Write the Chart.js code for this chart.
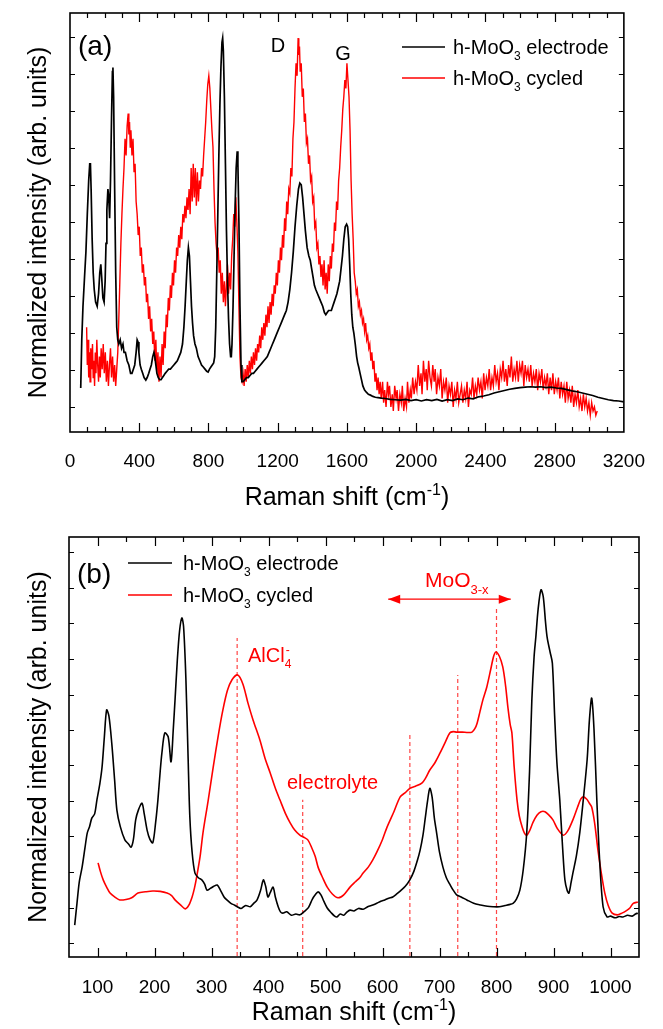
<!DOCTYPE html>
<html>
<head>
<meta charset="utf-8">
<title>Raman spectra of h-MoO3</title>
<script src="https://cdn.jsdelivr.net/npm/chart.js@4.4.1/dist/chart.umd.min.js"></script>
<style>
  body { margin: 0; background: #fff; }
  .panel { position: absolute; left: 0; }
</style>
</head>
<body>
<canvas id="chartA" class="panel" width="663" height="515" style="top:0"></canvas>
<canvas id="chartB" class="panel" width="663" height="514" style="top:515px"></canvas>
<script>
// ---------- panel (a): full range, 0 - 3200 cm-1 ----------
const xLabelsA = [0, 400, 800, 1200, 1600, 2000, 2400, 2800, 3200];
const yTicksA = [0.06, 0.148, 0.237, 0.325, 0.413, 0.502, 0.59, 0.678, 0.767, 0.855, 0.943];

// h-MoO3 electrode, [shift, normalized intensity]
const electrodeA = [
  [62,.105],[68,.22],[75,.30],[84,.37],[92,.43],[100,.52],[108,.60],[114,.64],[118,.64],[122,.58],
  [128,.46],[134,.38],[140,.34],[148,.31],[157,.30],[165,.33],[172,.38],[178,.40],[183,.37],[190,.32],
  [197,.31],[203,.36],[208,.45],[213,.53],[219,.58],[224,.56],[229,.51],[234,.60],[240,.75],[245,.86],
  [248,.87],[252,.80],[258,.58],[264,.38],[270,.25],[276,.22],[282,.21],[290,.22],[298,.20],[306,.21],
  [312,.19],[320,.19],[330,.17],[340,.16],[350,.14],[358,.14],[366,.15],[374,.16],[382,.19],[388,.22],
  [393,.215],[398,.19],[405,.16],[412,.15],[420,.14],[428,.13],[438,.124],[446,.13],[455,.14],[462,.15],
  [470,.16],[478,.18],[485,.19],[490,.18],[496,.16],[502,.14],[510,.13],[518,.125],[526,.125],[534,.13],
  [542,.135],[550,.14],[560,.145],[570,.15],[580,.15],[590,.155],[600,.16],[610,.165],[620,.17],[630,.18],
  [640,.19],[650,.21],[658,.25],[665,.30],[672,.36],[678,.41],[684,.44],[690,.42],[696,.36],[702,.30],
  [708,.26],[714,.23],[722,.21],[730,.20],[740,.18],[750,.17],[760,.16],[770,.155],[780,.15],[790,.145],
  [798,.143],[806,.15],[814,.155],[822,.16],[830,.165],[836,.18],[842,.25],[848,.38],[854,.52],[860,.66],
  [866,.78],[872,.87],[878,.93],[882,.94],[886,.91],[892,.80],[898,.64],[904,.48],[910,.36],[916,.27],
  [922,.21],[928,.18],[932,.18],[936,.21],[942,.30],[948,.42],[954,.54],[960,.63],[966,.67],[970,.64],
  [976,.50],[982,.30],[988,.16],[993,.12],[1000,.12],[1010,.125],[1020,.13],[1030,.13],[1040,.135],[1050,.14],
  [1060,.14],[1070,.145],[1080,.15],[1090,.155],[1100,.16],[1110,.165],[1120,.17],[1130,.175],[1140,.18],[1150,.19],
  [1160,.20],[1170,.21],[1180,.22],[1190,.23],[1200,.24],[1210,.25],[1220,.26],[1230,.27],[1240,.28],[1250,.29],
  [1260,.31],[1270,.34],[1280,.38],[1290,.43],[1300,.49],[1310,.54],[1320,.58],[1328,.594],[1336,.59],[1344,.56],
  [1352,.52],[1360,.48],[1370,.44],[1380,.42],[1388,.41],[1396,.39],[1404,.37],[1412,.35],[1420,.34],[1430,.33],
  [1440,.32],[1450,.31],[1460,.30],[1470,.285],[1478,.28],[1486,.285],[1494,.29],[1502,.29],[1510,.29],[1518,.30],
  [1526,.31],[1534,.32],[1542,.33],[1550,.345],[1558,.36],[1566,.39],[1574,.42],[1582,.46],[1590,.49],[1598,.496],
  [1604,.49],[1610,.46],[1616,.40],[1622,.33],[1628,.28],[1634,.25],[1640,.236],[1648,.21],[1656,.18],[1662,.165],
  [1668,.155],[1676,.14],[1684,.125],[1692,.11],[1702,.10],[1712,.095],[1724,.09],[1736,.088],[1750,.085],[1764,.083],
  [1780,.082],[1798,.081],[1820,.08],[1850,.078],[1880,.077],[1910,.076],[1940,.078],[1970,.075],[2000,.077],[2030,.074],
  [2060,.077],[2090,.075],[2120,.078],[2150,.074],[2180,.077],[2210,.075],[2240,.079],[2270,.077],[2300,.081],[2330,.079],
  [2360,.084],[2390,.086],[2420,.089],[2450,.093],[2480,.096],[2510,.099],[2540,.102],[2570,.104],[2600,.106],[2630,.107],
  [2660,.108],[2690,.107],[2720,.108],[2750,.106],[2780,.107],[2810,.105],[2840,.104],[2870,.101],[2900,.098],[2930,.096],
  [2960,.093],[2990,.09],[3020,.087],[3050,.083],[3080,.08],[3110,.077],[3140,.075],[3170,.074],[3200,.072]
];

// h-MoO3 cycled, [shift, normalized intensity]
const cycledA = [
  [96,.25],[100,.16],[104,.22],[108,.13],[112,.19],[116,.12],[120,.20],[125,.15],[130,.21],[134,.13],
  [138,.17],[142,.11],[146,.19],[150,.14],[155,.22],[160,.16],[165,.12],[170,.18],[175,.13],[180,.20],
  [186,.15],[192,.21],[198,.14],[204,.19],[210,.12],[216,.17],[222,.11],[228,.16],[234,.20],[240,.13],
  [246,.18],[252,.12],[258,.16],[264,.11],[270,.15],[276,.19],[282,.27],[288,.36],[294,.45],[300,.52],
  [306,.58],[312,.63],[318,.70],[324,.66],[330,.73],[336,.76],[340,.71],[344,.74],[348,.68],[352,.72],
  [358,.66],[364,.70],[370,.62],[376,.64],[382,.55],[388,.52],[394,.47],[400,.49],[406,.42],[412,.44],
  [418,.38],[424,.40],[430,.35],[436,.37],[442,.31],[448,.33],[454,.27],[460,.30],[466,.24],[472,.27],
  [478,.21],[484,.24],[490,.17],[496,.22],[502,.14],[508,.19],[514,.12],[520,.18],[526,.13],[532,.21],
  [538,.16],[544,.24],[550,.20],[556,.28],[562,.25],[568,.32],[574,.29],[580,.35],[586,.32],[592,.38],
  [598,.35],[604,.41],[610,.38],[616,.44],[622,.42],[628,.47],[634,.44],[640,.49],[646,.46],[652,.52],
  [658,.50],[664,.54],[670,.51],[676,.56],[682,.53],[688,.58],[694,.52],[700,.63],[706,.55],[712,.64],
  [718,.56],[724,.63],[730,.54],[736,.62],[742,.55],[748,.60],[754,.58],[760,.63],[766,.61],[772,.66],
  [778,.70],[784,.74],[790,.79],[796,.83],[802,.85],[808,.82],[814,.77],[820,.72],[826,.68],[832,.58],
  [838,.50],[844,.45],[850,.42],[856,.44],[862,.38],[868,.41],[874,.33],[880,.38],[886,.31],[892,.36],
  [898,.30],[904,.35],[910,.40],[916,.33],[922,.38],[928,.34],[934,.42],[940,.46],[946,.52],[952,.49],
  [958,.56],[964,.50],[970,.43],[976,.30],[982,.18],[988,.13],[994,.12],[1000,.14],[1006,.11],[1012,.15],
  [1018,.12],[1024,.16],[1030,.13],[1036,.17],[1042,.14],[1048,.18],[1054,.15],[1060,.19],[1066,.16],[1072,.20],
  [1078,.17],[1084,.21],[1090,.19],[1096,.23],[1102,.20],[1108,.25],[1114,.22],[1120,.26],[1126,.23],[1132,.28],
  [1138,.25],[1144,.30],[1150,.26],[1156,.31],[1162,.28],[1168,.33],[1174,.30],[1180,.35],[1186,.33],[1192,.38],
  [1198,.35],[1204,.41],[1210,.38],[1216,.44],[1222,.41],[1228,.47],[1234,.44],[1240,.51],[1246,.48],[1252,.55],
  [1258,.52],[1264,.58],[1270,.57],[1276,.63],[1282,.61],[1288,.70],[1294,.74],[1300,.82],[1306,.88],[1312,.85],
  [1318,.94],[1322,.90],[1326,.92],[1330,.86],[1336,.88],[1342,.80],[1348,.82],[1354,.74],[1360,.76],[1366,.69],
  [1372,.70],[1378,.64],[1384,.66],[1390,.60],[1396,.61],[1402,.55],[1408,.56],[1414,.49],[1420,.50],[1426,.44],
  [1432,.45],[1438,.40],[1444,.42],[1450,.37],[1456,.40],[1462,.35],[1468,.41],[1474,.34],[1480,.38],[1486,.33],
  [1492,.40],[1498,.36],[1504,.42],[1510,.39],[1516,.45],[1522,.43],[1528,.50],[1534,.48],[1540,.55],[1546,.53],
  [1552,.60],[1558,.63],[1564,.68],[1570,.72],[1576,.77],[1582,.80],[1588,.84],[1594,.82],[1600,.88],[1606,.84],
  [1612,.80],[1618,.72],[1624,.60],[1630,.52],[1636,.46],[1642,.38],[1648,.36],[1654,.33],[1660,.34],[1666,.30],
  [1672,.31],[1678,.28],[1684,.29],[1690,.26],[1696,.27],[1702,.24],[1708,.26],[1714,.22],[1720,.23],[1726,.20],
  [1732,.21],[1738,.17],[1744,.19],[1750,.15],[1756,.17],[1762,.12],[1768,.14],[1774,.10],[1780,.13],[1786,.09],
  [1792,.12],[1798,.08],[1806,.12],[1812,.07],[1818,.10],[1826,.06],[1834,.12],[1840,.09],[1846,.11],[1854,.06],
  [1862,.09],[1868,.05],[1876,.11],[1884,.08],[1890,.10],[1898,.05],[1906,.09],[1914,.07],[1920,.11],[1928,.05],
  [1936,.08],[1944,.06],[1950,.12],[1958,.07],[1966,.10],[1972,.08],[1980,.13],[1988,.09],[1996,.12],[2004,.10],
  [2012,.16],[2020,.11],[2028,.14],[2034,.09],[2042,.17],[2050,.12],[2058,.15],[2064,.10],[2072,.17],[2080,.13],
  [2088,.11],[2096,.16],[2104,.12],[2110,.15],[2118,.09],[2126,.13],[2134,.11],[2142,.15],[2150,.08],[2158,.12],
  [2166,.10],[2174,.13],[2182,.07],[2190,.11],[2198,.09],[2206,.12],[2214,.06],[2222,.10],[2230,.08],[2238,.12],
  [2246,.07],[2254,.09],[2262,.11],[2270,.07],[2278,.10],[2286,.08],[2294,.12],[2302,.06],[2310,.10],[2318,.09],
  [2326,.13],[2334,.08],[2342,.11],[2350,.09],[2358,.13],[2366,.10],[2374,.12],[2382,.08],[2390,.14],[2398,.10],
  [2406,.13],[2414,.11],[2422,.15],[2430,.10],[2438,.13],[2446,.11],[2454,.16],[2462,.12],[2470,.14],[2478,.10],
  [2486,.15],[2494,.13],[2502,.17],[2510,.12],[2518,.15],[2526,.11],[2534,.16],[2542,.13],[2550,.18],[2558,.12],
  [2566,.15],[2574,.13],[2582,.17],[2590,.12],[2598,.16],[2606,.14],[2614,.17],[2622,.11],[2630,.16],[2638,.13],
  [2646,.15],[2654,.12],[2662,.16],[2670,.11],[2678,.14],[2686,.12],[2694,.15],[2702,.10],[2710,.14],[2718,.12],
  [2726,.15],[2734,.10],[2742,.13],[2750,.11],[2758,.14],[2766,.09],[2774,.13],[2782,.10],[2790,.14],[2798,.09],
  [2806,.12],[2814,.10],[2822,.13],[2830,.08],[2838,.12],[2846,.09],[2854,.11],[2862,.07],[2870,.12],[2878,.08],
  [2886,.10],[2894,.07],[2902,.11],[2910,.06],[2918,.09],[2926,.07],[2934,.10],[2942,.06],[2950,.08],[2958,.05],
  [2966,.09],[2974,.06],[2982,.08],[2990,.05],[2998,.07],[3006,.04],[3014,.07],[3022,.05],[3030,.06],[3038,.04],
  [3046,.05]
];

// ---------- panel (b): zoom 50 - 1050 cm-1 ----------
const xLabelsB = [100, 200, 300, 400, 500, 600, 700, 800, 900, 1000];
const yTicksB = [0.047, 0.13, 0.214, 0.297, 0.38, 0.464, 0.547, 0.63, 0.714, 0.797, 0.88, 0.964];

const electrodeB = [
  [60,.089],[64,.14],[68,.19],[73,.225],[78,.27],[82,.305],[86,.32],[90,.34],[95,.35],[99,.383],
  [104,.42],[108,.46],[112,.53],[116,.594],[120,.58],[125,.516],[130,.43],[134,.359],[140,.32],[148,.289],
  [154,.28],[159,.272],[163,.29],[167,.336],[172,.36],[178,.375],[182,.35],[187,.312],[192,.29],[197,.282],
  [202,.33],[206,.383],[210,.45],[213,.493],[218,.54],[224,.531],[229,.472],[233,.55],[236,.617],[240,.71],
  [244,.78],[248,.81],[251,.79],[255,.67],[259,.48],[262,.343],[266,.26],[271,.211],[277,.20],[283,.195],
  [288,.185],[292,.171],[298,.175],[304,.18],[310,.183],[316,.17],[322,.155],[327,.148],[334,.14],[340,.136],
  [345,.132],[352,.128],[360,.135],[368,.132],[374,.14],[380,.148],[386,.17],[391,.195],[395,.18],[399,.155],
  [403,.165],[408,.178],[412,.155],[417,.132],[421,.12],[425,.117],[432,.12],[440,.112],[448,.115],[455,.113],
  [462,.12],[470,.13],[477,.15],[482,.16],[487,.167],[492,.16],[497,.145],[503,.129],[510,.118],[516,.11],
  [520,.108],[526,.115],[532,.112],[538,.12],[543,.124],[550,.122],[558,.128],[566,.126],[574,.132],[583,.136],
  [590,.14],[597,.145],[604,.148],[611,.152],[618,.155],[625,.162],[632,.17],[640,.18],[648,.195],[655,.215],
  [661,.24],[666,.265],[671,.30],[675,.34],[679,.38],[683,.41],[687,.39],[691,.34],[695,.305],[700,.26],
  [706,.225],[712,.20],[718,.185],[724,.171],[730,.16],[738,.155],[748,.148],[760,.14],[772,.136],[784,.133],
  [794,.132],[805,.132],[815,.135],[822,.137],[829,.14],[835,.15],[841,.171],[847,.22],[853,.305],[858,.45],
  [862,.617],[866,.72],[869,.765],[873,.83],[878,.876],[882,.86],[886,.80],[889,.763],[894,.73],[898,.704],
  [902,.58],[906,.47],[911,.383],[916,.27],[920,.195],[924,.17],[927,.164],[931,.19],[934,.211],[940,.25],
  [946,.305],[952,.38],[959,.477],[963,.57],[967,.622],[971,.55],[976,.383],[981,.24],[987,.132],[994,.108],
  [1000,.11],[1008,.106],[1015,.109],[1022,.108],[1030,.112],[1038,.11],[1044,.115],[1048,.117]
];

const cycledB = [
  [101,.235],[105,.215],[110,.195],[116,.178],[122,.164],[130,.155],[139,.148],[150,.149],[160,.153],[171,.164],
  [184,.167],[197,.169],[210,.168],[222,.164],[230,.158],[236,.148],[245,.137],[254,.127],[260,.135],[266,.155],
  [270,.175],[274,.202],[280,.25],[285,.305],[294,.38],[303,.46],[312,.535],[320,.594],[328,.64],[336,.665],
  [346,.676],[355,.655],[364,.61],[373,.57],[385,.523],[394,.48],[403,.446],[412,.41],[420,.383],[430,.35],
  [438,.329],[446,.312],[455,.30],[462,.295],[469,.289],[476,.27],[482,.25],[487,.225],[495,.20],[503,.178],
  [512,.162],[522,.153],[532,.16],[543,.178],[552,.19],[560,.20],[566,.211],[575,.225],[583,.242],[590,.26],
  [600,.29],[608,.319],[620,.355],[631,.39],[640,.40],[648,.41],[658,.415],[669,.422],[676,.435],[683,.453],
  [692,.47],[701,.493],[710,.518],[718,.54],[724,.543],[730,.542],[740,.542],[750,.541],[757,.542],[762,.55],
  [766,.563],[771,.59],[776,.617],[783,.648],[790,.69],[795,.72],[799,.73],[805,.72],[811,.695],[816,.65],
  [820,.60],[824,.56],[827,.54],[831,.46],[836,.383],[840,.345],[845,.319],[849,.305],[853,.30],[858,.31],
  [864,.33],[871,.347],[878,.355],[885,.355],[892,.347],[899,.336],[907,.315],[917,.30],[925,.31],[934,.336],
  [942,.365],[948,.385],[952,.39],[958,.385],[963,.375],[967,.366],[972,.33],[978,.265],[984,.21],[990,.164],
  [996,.135],[1003,.117],[1012,.113],[1020,.117],[1028,.123],[1034,.129],[1040,.14],[1048,.143]
];

// dashed band markers: position and top of each line
const markerX = [345, 460, 648, 732, 800];
const markerTop = [0.763, 0.383, 0.54, 0.676, 0.833];
// MoO3-x range arrow
const arrowX = [610, 825];
const arrowY = 0.854;

const FONT = '"Liberation Sans", Arial, Helvetica, sans-serif';
Chart.defaults.font.family = FONT;
Chart.defaults.color = '#000';

const toPoints = arr => arr.map(p => ({ x: p[0], y: p[1] }));

// text with sub/superscripts; parts = [[text, kind]], kind: n | sub | sup | over (sup stacked over previous sub)
function richText(ctx, x, y, parts, size, color, align) {
  const fontOf = k => (k === 'n' ? size : Math.round(size * 0.62)) + 'px ' + FONT;
  ctx.save();
  ctx.fillStyle = color;
  ctx.textBaseline = 'alphabetic';
  let w = 0, prevW = 0;
  parts.forEach(([t, k]) => {
    ctx.font = fontOf(k);
    const tw = ctx.measureText(t).width;
    if (k === 'over') { w += Math.max(0, tw - prevW); } else { w += tw; prevW = tw; }
  });
  let cx = align === 'center' ? x - w / 2 : x;
  let lastStart = cx;
  parts.forEach(([t, k]) => {
    ctx.font = fontOf(k);
    const tw = ctx.measureText(t).width;
    let dy = 0;
    if (k === 'sub') dy = size * 0.32;
    if (k === 'sup' || k === 'over') dy = -size * 0.42;
    if (k === 'over') {
      ctx.fillText(t, lastStart + 1, y + dy);
    } else {
      ctx.fillText(t, cx, y + dy);
      lastStart = cx;
      cx += tw;
    }
  });
  ctx.restore();
}

// frame, inward ticks, titles, legend and labels
function decoPlugin(cfg) {
  return {
    id: 'deco' + cfg.name,
    afterDraw(chart) {
      const ctx = chart.ctx, a = chart.chartArea;
      const xs = chart.scales.x, ys = chart.scales.y;
      ctx.save();
      ctx.strokeStyle = '#000';
      ctx.lineWidth = 1.2;
      ctx.beginPath();
      for (let v = xs.min + cfg.minor; v < xs.max; v += cfg.minor) {
        const len = Math.abs(v % cfg.major) < 1e-6 ? 9 : 5;
        const px = Math.round(xs.getPixelForValue(v)) + 0.5;
        ctx.moveTo(px, a.bottom); ctx.lineTo(px, a.bottom - len);
        ctx.moveTo(px, a.top); ctx.lineTo(px, a.top + len);
      }
      cfg.yTicks.forEach(v => {
        const py = Math.round(ys.getPixelForValue(v)) + 0.5;
        ctx.moveTo(a.left, py); ctx.lineTo(a.left + 5, py);
        ctx.moveTo(a.right, py); ctx.lineTo(a.right - 5, py);
      });
      ctx.stroke();
      ctx.lineWidth = 1.6;
      ctx.strokeRect(a.left, a.top, a.right - a.left, a.bottom - a.top);

      // legend
      cfg.legend.forEach(item => {
        ctx.strokeStyle = item.color;
        ctx.lineWidth = 1.5;
        ctx.beginPath();
        ctx.moveTo(item.x0, item.y); ctx.lineTo(item.x1, item.y);
        ctx.stroke();
        richText(ctx, item.tx, item.y + 7, item.parts, 20, '#000', 'left');
      });

      // arrow heads
      if (cfg.arrow) {
        const py = ys.getPixelForValue(cfg.arrow.y);
        ctx.fillStyle = '#ff0000';
        cfg.arrow.x.forEach((v, i) => {
          const px = xs.getPixelForValue(v);
          const d = i === 0 ? 1 : -1;
          ctx.beginPath();
          ctx.moveTo(px, py);
          ctx.lineTo(px + d * 12, py - 4.5);
          ctx.lineTo(px + d * 12, py + 4.5);
          ctx.closePath();
          ctx.fill();
        });
      }

      cfg.labels.forEach(l => richText(ctx, l.x, l.y, l.parts, l.size, l.color, l.align || 'left'));

      // axis titles
      richText(ctx, (a.left + a.right) / 2, cfg.xTitleY, [['Raman shift (cm', 'n'], ['-1', 'sup'], [')', 'n']], 25, '#000', 'center');
      ctx.save();
      ctx.translate(37, (a.top + a.bottom) / 2);
      ctx.rotate(-Math.PI / 2);
      richText(ctx, 0, 9, [['Normalized intensity (arb. units)', 'n']], 25, '#000', 'center');
      ctx.restore();
      ctx.restore();
    }
  };
}

function xAxis(min, max, labels, height, pad) {
  return {
    type: 'linear', min: min, max: max,
    grid: { display: false, drawTicks: false },
    border: { display: false },
    ticks: { font: { size: 19 }, color: '#000', padding: pad, maxRotation: 0, autoSkip: false,
             callback: v => String(v) },
    afterBuildTicks: axis => { axis.ticks = labels.map(v => ({ value: v })); },
    afterFit: axis => { axis.height = height; }
  };
}

function yAxis(min, width) {
  return {
    min: min, max: 1,
    grid: { display: false, drawTicks: false },
    border: { display: false },
    ticks: { display: false },
    afterFit: axis => { axis.width = width; }
  };
}

const baseOptions = {
  responsive: false,
  animation: false,
  events: [],
  elements: { point: { radius: 0 } },
  plugins: { legend: { display: false }, tooltip: { enabled: false } }
};

// panel (a)
new Chart(document.getElementById('chartA'), {
  type: 'line',
  data: {
    datasets: [
      { data: toPoints(electrodeA), borderColor: '#000000', borderWidth: 1.7, tension: 0 },
      { data: toPoints(cycledA), borderColor: '#ff0000', borderWidth: 1.4, tension: 0 }
    ]
  },
  options: Object.assign({}, baseOptions, {
    layout: { padding: { left: 0, top: 13, right: 23, bottom: 0 } },
    scales: { x: xAxis(0, 3200, xLabelsA, 83, 18), y: yAxis(0, 70) }
  }),
  plugins: [decoPlugin({
    name: 'A', minor: 100, major: 400, yTicks: yTicksA, xTitleY: 505,
    legend: [
      { color: '#000', x0: 402, x1: 445, y: 47, tx: 453, parts: [['h-MoO', 'n'], ['3', 'sub'], [' electrode', 'n']] },
      { color: '#ff0000', x0: 402, x1: 445, y: 78, tx: 453, parts: [['h-MoO', 'n'], ['3', 'sub'], [' cycled', 'n']] }
    ],
    labels: [
      { x: 78, y: 55, parts: [['(a)', 'n']], size: 28, color: '#000' },
      { x: 278, y: 52, parts: [['D', 'n']], size: 20, color: '#000', align: 'center' },
      { x: 343, y: 60, parts: [['G', 'n']], size: 20, color: '#000', align: 'center' }
    ]
  })]
});

// panel (b)
const markerSets = markerX.map((x, i) => ({
  data: [{ x: x, y: 0 }, { x: x, y: markerTop[i] }],
  borderColor: 'rgba(255,50,50,0.9)', borderWidth: 1.2, borderDash: [4, 3], tension: 0
}));

new Chart(document.getElementById('chartB'), {
  type: 'line',
  data: {
    datasets: [
      { data: toPoints(electrodeB), borderColor: '#000000', borderWidth: 1.6, tension: 0.3 },
      { data: toPoints(cycledB), borderColor: '#ff0000', borderWidth: 1.6, tension: 0.3 },
      ...markerSets,
      { data: arrowX.map(x => ({ x: x, y: arrowY })), borderColor: '#ff0000', borderWidth: 1.3, tension: 0 }
    ]
  },
  options: Object.assign({}, baseOptions, {
    layout: { padding: { left: 0, top: 22, right: 24, bottom: 0 } },
    scales: { x: xAxis(50, 1050, xLabelsB, 72, 19), y: yAxis(0.014, 69) }
  }),
  plugins: [decoPlugin({
    name: 'B', minor: 50, major: 100, yTicks: yTicksB, xTitleY: 505,
    arrow: { x: arrowX, y: arrowY },
    legend: [
      { color: '#000', x0: 128, x1: 172, y: 48, tx: 183, parts: [['h-MoO', 'n'], ['3', 'sub'], [' electrode', 'n']] },
      { color: '#ff0000', x0: 128, x1: 172, y: 80, tx: 183, parts: [['h-MoO', 'n'], ['3', 'sub'], [' cycled', 'n']] }
    ],
    labels: [
      { x: 77, y: 68, parts: [['(b)', 'n']], size: 28, color: '#000' },
      { x: 248, y: 147, parts: [['AlCl', 'n'], ['4', 'sub'], ['-', 'over']], size: 20, color: '#ff0000' },
      { x: 287, y: 274, parts: [['electrolyte', 'n']], size: 20, color: '#ff0000' },
      { x: 425, y: 72, parts: [['MoO', 'n'], ['3-x', 'sub']], size: 21, color: '#ff0000' }
    ]
  })]
});
</script>
</body>
</html>
